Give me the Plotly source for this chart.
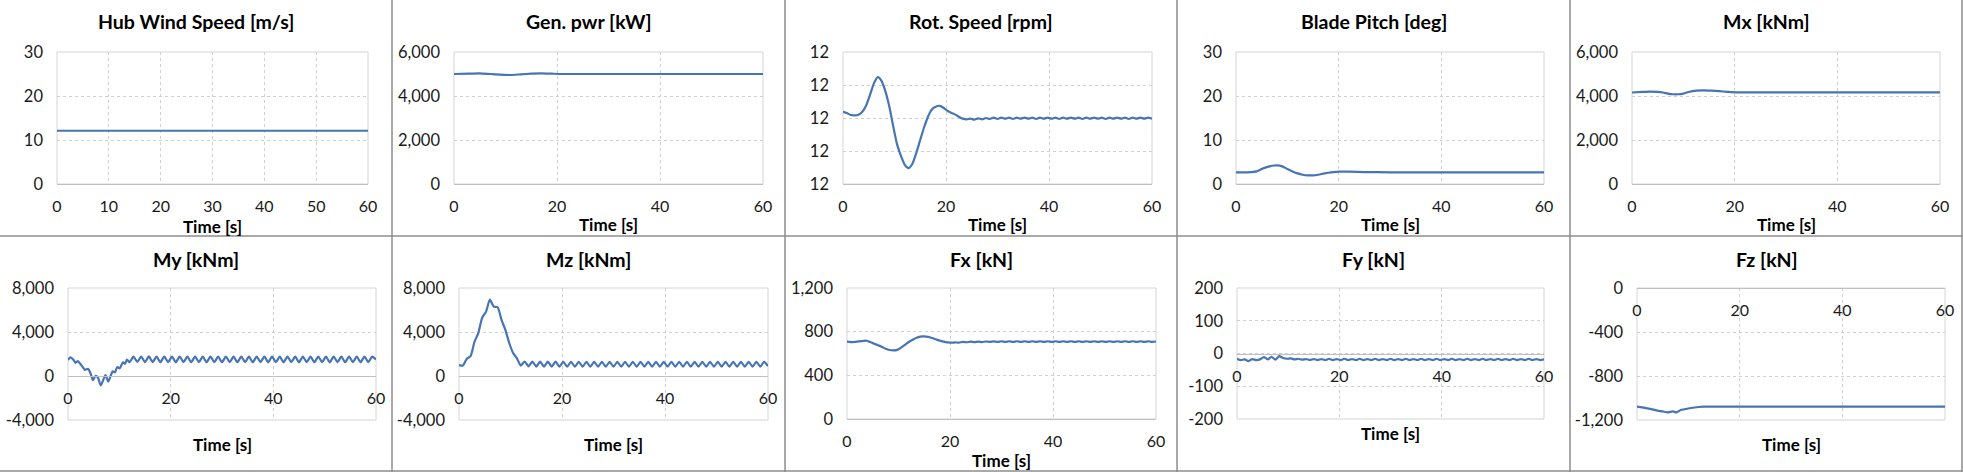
import plotly.graph_objects as go

W, H = 1963, 472

# ---------------- data ----------------
xt_10 = [0, 10, 20, 30, 40, 50, 60]
xtl_10 = ["0", "10", "20", "30", "40", "50", "60"]
xt_20 = [0, 20, 40, 60]
xtl_20 = ["0", "20", "40", "60"]

# common time grid (s) for rippling signals
t_grid = [0, 0.75, 1.5, 2.25, 3, 3.75, 4.5, 5.25,
          6, 6.75, 7.5, 8.25, 9, 9.75, 10.5, 11.25,
          12, 12.75, 13.5, 14.25, 15, 15.75, 16.5, 17.25,
          18, 18.75, 19.5, 20.25, 21, 21.75, 22.5, 23.25,
          24, 24.75, 25.5, 26.25, 27, 27.75, 28.5, 29.25,
          30, 30.75, 31.5, 32.25, 33, 33.75, 34.5, 35.25,
          36, 36.75, 37.5, 38.25, 39, 39.75, 40.5, 41.25,
          42, 42.75, 43.5, 44.25, 45, 45.75, 46.5, 47.25,
          48, 48.75, 49.5, 50.25, 51, 51.75, 52.5, 53.25,
          54, 54.75, 55.5, 56.25, 57, 57.75, 58.5, 59.25,
          60]

# Hub wind speed [m/s]
t_wind = [0, 10, 20, 30, 40, 50, 60]
wind = [12.1, 12.1, 12.1, 12.1, 12.1, 12.1, 12.1]
yt_wind = [0, 10, 20, 30]
ytl_wind = ["0", "10", "20", "30"]

# Generator power [kW]
t_pwr = [0, 3, 5, 7, 9, 11, 13, 15, 17, 19, 21, 25, 30, 40, 50, 60]
pwr = [5000, 5015, 5030, 5000, 4970, 4955, 4985, 5015, 5030, 5015, 5000, 5000, 5000, 5000, 5000, 5000]
yt_pwr = [0, 2000, 4000, 6000]
ytl_pwr = ["0", "2,000", "4,000", "6,000"]

# Rotor speed [rpm]
rot = [12.119, 12.115, 12.109, 12.108, 12.110, 12.119, 12.138, 12.170,
       12.205, 12.224, 12.212, 12.180, 12.134, 12.075, 12.020, 11.985,
       11.958, 11.948, 11.962, 11.995, 12.034, 12.072, 12.104, 12.126,
       12.134, 12.137, 12.131, 12.122, 12.116, 12.111, 12.104, 12.098,
       12.096, 12.098, 12.095, 12.099, 12.096, 12.100, 12.097, 12.101,
       12.097, 12.101, 12.098, 12.101, 12.097, 12.101, 12.098, 12.101,
       12.098, 12.101, 12.097, 12.101, 12.098, 12.101, 12.098, 12.101,
       12.097, 12.101, 12.098, 12.101, 12.098, 12.101, 12.097, 12.101,
       12.098, 12.101, 12.098, 12.101, 12.097, 12.101, 12.098, 12.101,
       12.098, 12.101, 12.097, 12.101, 12.098, 12.101, 12.098, 12.101,
       12.098]
yt_rot = [11.9, 12.0, 12.1, 12.2, 12.3]
ytl_rot = ["12", "12", "12", "12", "12"]

# Blade pitch [deg]
t_pitch = [0, 3, 4, 5, 6, 7, 8, 9, 10, 11, 12, 13, 14, 15, 16, 17, 18, 19, 20, 22, 25, 30, 40, 50, 60]
pitch = [2.65, 2.70, 2.86, 3.40, 3.84, 4.14, 4.22, 4.00, 3.40, 2.86, 2.41, 2.11, 1.96, 1.96, 2.11,
         2.34, 2.56, 2.71, 2.79, 2.79, 2.71, 2.66, 2.65, 2.65, 2.65]
yt_pitch = [0, 10, 20, 30]
ytl_pitch = ["0", "10", "20", "30"]

# Mx [kNm]
t_mx = [0, 2, 3.5, 5, 6, 7, 8, 9, 10, 11, 12.5, 14, 15.5, 17, 18.5, 20, 25, 30, 35, 40, 45, 50, 55, 60]
mx = [4160, 4185, 4200, 4185, 4160, 4110, 4080, 4080, 4110, 4180, 4245, 4260, 4245, 4220, 4190,
      4165, 4165, 4165, 4165, 4165, 4165, 4165, 4165, 4165]
yt_mx = [0, 2000, 4000, 6000]
ytl_mx = ["0", "2,000", "4,000", "6,000"]

# My [kNm]
t_my = [0, 0.45, 1.1, 1.45, 1.9, 2.45, 2.9, 3.3, 3.9, 4.35, 4.85, 5.35, 5.8, 6.4, 7.3, 7.85,
        8.7, 9.15, 9.6, 10.1, 10.7, 11.1, 11.5,
        12, 12.75, 13.5, 14.25, 15, 15.75, 16.5, 17.25,
        18, 18.75, 19.5, 20.25, 21, 21.75, 22.5, 23.25,
        24, 24.75, 25.5, 26.25, 27, 27.75, 28.5, 29.25,
        30, 30.75, 31.5, 32.25, 33, 33.75, 34.5, 35.25,
        36, 36.75, 37.5, 38.25, 39, 39.75, 40.5, 41.25,
        42, 42.75, 43.5, 44.25, 45, 45.75, 46.5, 47.25,
        48, 48.75, 49.5, 50.25, 51, 51.75, 52.5, 53.25,
        54, 54.75, 55.5, 56.25, 57, 57.75, 58.5, 59.25,
        60]
my = [1450, 1700, 1450, 1200, 1350, 1080, 790, 560, 650, 300, -380, 0, -120, -850, 90, -520,
      420, 330, 820, 700, 1250, 1100, 1500,
      1250, 1760, 1280, 1770, 1260, 1780, 1270, 1760,
      1250, 1770, 1260, 1760, 1250, 1770, 1260, 1760,
      1250, 1770, 1260, 1760, 1250, 1770, 1260, 1760,
      1250, 1770, 1260, 1760, 1250, 1770, 1260, 1760,
      1250, 1770, 1260, 1760, 1250, 1770, 1260, 1760,
      1250, 1770, 1260, 1760, 1250, 1770, 1260, 1760,
      1250, 1770, 1260, 1760, 1250, 1770, 1260, 1760,
      1250, 1770, 1260, 1760, 1250, 1770, 1260, 1760,
      1500]
yt_my = [-4000, 0, 4000, 8000]
ytl_my = ["-4,000", "0", "4,000", "8,000"]

# Mz [kNm]
mz = [1000, 950, 1550, 1800, 3100, 3900, 5300, 5850,
      6950, 6300, 6250, 5100, 4200, 3000, 2100, 1600,
      950, 1320, 880, 1320, 860, 1310, 850, 1300,
      850, 1300, 850, 1290, 850, 1290, 850, 1290,
      850, 1290, 850, 1290, 850, 1290, 850, 1290,
      850, 1290, 850, 1290, 850, 1290, 850, 1290,
      850, 1290, 850, 1290, 850, 1290, 850, 1290,
      850, 1290, 850, 1290, 850, 1290, 850, 1290,
      850, 1290, 850, 1290, 850, 1290, 850, 1290,
      850, 1290, 850, 1290, 850, 1290, 850, 1290,
      900]
yt_mz = [-4000, 0, 4000, 8000]
ytl_mz = ["-4,000", "0", "4,000", "8,000"]

# Fx [kN]
fx = [708, 705, 707, 711, 714, 717, 705, 690,
      676, 662, 644, 632, 628, 633, 654, 680,
      705, 726, 745, 755, 757, 752, 742, 730,
      718, 709, 702, 699, 701, 700, 706, 703,
      708, 704, 709, 705, 710, 706, 711, 707,
      712, 707, 712, 707, 712, 707, 712, 707,
      712, 707, 712, 707, 712, 707, 712, 707,
      712, 707, 712, 707, 712, 707, 712, 707,
      712, 707, 712, 707, 712, 707, 712, 707,
      712, 707, 712, 707, 712, 707, 712, 707,
      710]
yt_fx = [0, 400, 800, 1200]
ytl_fx = ["0", "400", "800", "1,200"]

# Fy [kN]
fy = [-16, -20, -18, -23, -17, -20, -18, -11,
      -18, -10, -19, -8, -14, -16, -15, -18,
      -16, -19, -17, -20, -17, -20, -17, -20,
      -16, -20, -17, -20, -16, -20, -17, -20,
      -16, -20, -17, -20, -16, -20, -17, -20,
      -16, -20, -17, -20, -16, -20, -17, -20,
      -16, -20, -17, -20, -16, -20, -17, -20,
      -16, -20, -17, -20, -16, -20, -17, -20,
      -16, -20, -17, -20, -16, -20, -17, -20,
      -16, -20, -17, -20, -16, -20, -17, -20,
      -18]
yt_fy = [-200, -100, 0, 100, 200]
ytl_fy = ["-200", "-100", "0", "100", "200"]

# Fz [kN]
t_fz = [0, 1, 2, 3, 4, 5, 6, 7, 7.7, 8.5, 9.5, 10.5, 12, 13, 20, 30, 40, 50, 60]
fz = [-1079, -1085, -1094, -1103, -1115, -1122, -1131, -1122, -1131, -1109, -1100, -1091,
      -1082, -1079, -1079, -1079, -1079, -1079, -1079]
yt_fz = [-1200, -800, -400, 0]
ytl_fz = ["-1,200", "-800", "-400", "0"]

# ---------------- layout / style ----------------
BLUE = "#4674B4"
GRID = "#D0D0D0"
FRAME = "#D4D4D4"
AXIS = "#BFBFBF"
SEP = "#8C8C8C"
FONT = "Lato"
TXT = "#1A1A1A"

panels = [
    dict(title="Hub Wind Speed [m/s]", t=t_wind, v=wind, yr=[0, 30], yt=yt_wind, ytl=ytl_wind,
         xt=xt_10, xtl=xtl_10, box=(57, 368, 52, 184), cell=(0, 392), ty=22, tt=227),
    dict(title="Gen. pwr [kW]", t=t_pwr, v=pwr, yr=[0, 6000], yt=yt_pwr, ytl=ytl_pwr,
         xt=xt_20, xtl=xtl_20, box=(454, 763, 52, 184), cell=(392, 785), ty=22, tt=224),
    dict(title="Rot. Speed [rpm]", t=t_grid, v=rot, yr=[11.9, 12.3], yt=yt_rot, ytl=ytl_rot,
         xt=xt_20, xtl=xtl_20, box=(843, 1152, 52, 184), cell=(785, 1177), ty=22, tt=224),
    dict(title="Blade Pitch [deg]", t=t_pitch, v=pitch, yr=[0, 30], yt=yt_pitch, ytl=ytl_pitch,
         xt=xt_20, xtl=xtl_20, box=(1236, 1544, 52, 184), cell=(1177, 1570), ty=22, tt=224),
    dict(title="Mx [kNm]", t=t_mx, v=mx, yr=[0, 6000], yt=yt_mx, ytl=ytl_mx,
         xt=xt_20, xtl=xtl_20, box=(1632, 1940, 52, 184), cell=(1570, 1963), ty=22, tt=224),
    dict(title="My [kNm]", t=t_my, v=my, yr=[-4000, 8000], yt=yt_my, ytl=ytl_my,
         xt=xt_20, xtl=xtl_20, box=(68, 376, 288, 420), cell=(0, 392), ty=259, tt=444),
    dict(title="Mz [kNm]", t=t_grid, v=mz, yr=[-4000, 8000], yt=yt_mz, ytl=ytl_mz,
         xt=xt_20, xtl=xtl_20, box=(459, 768, 288, 420), cell=(392, 785), ty=259, tt=444),
    dict(title="Fx [kN]", t=t_grid, v=fx, yr=[0, 1200], yt=yt_fx, ytl=ytl_fx,
         xt=xt_20, xtl=xtl_20, box=(847, 1156, 288, 419), cell=(785, 1177), ty=259, tt=460),
    dict(title="Fy [kN]", t=t_grid, v=fy, yr=[-200, 200], yt=yt_fy, ytl=ytl_fy,
         xt=xt_20, xtl=xtl_20, box=(1237, 1544, 288, 419), cell=(1177, 1570), ty=259, tt=433),
    dict(title="Fz [kN]", t=t_fz, v=fz, yr=[-1200, 0], yt=yt_fz, ytl=ytl_fz,
         xt=xt_20, xtl=xtl_20, box=(1637, 1945, 288, 420), cell=(1570, 1963), ty=259, tt=444),
]

fig = go.Figure()
layout = {}
shapes = []
annotations = []

for k, p in enumerate(panels, start=1):
    xa = "x" if k == 1 else f"x{k}"
    ya = "y" if k == 1 else f"y{k}"
    x0, x1, y0, y1 = p["box"]
    xd = [x0 / W, x1 / W]
    yd = [1 - y1 / H, 1 - y0 / H]
    ymin, ymax = p["yr"]
    zero = min(max(0.0, ymin), ymax)
    pos = yd[0] + (zero - ymin) / (ymax - ymin) * (yd[1] - yd[0])

    fig.add_trace(go.Scatter(
        x=p["t"], y=p["v"], mode="lines", xaxis=xa, yaxis=ya, showlegend=False,
        line=dict(color=BLUE, width=2.2, shape="spline", smoothing=0.6), hoverinfo="skip"))

    layout["xaxis" if k == 1 else f"xaxis{k}"] = dict(
        domain=xd, range=[0, 60], anchor="free", position=pos, automargin=False,
        tickmode="array", tickvals=p["xt"], ticktext=p["xtl"],
        showgrid=True, gridcolor=GRID, griddash="dot", gridwidth=1,
        showline=True, linecolor=AXIS, linewidth=1, zeroline=False,
        ticks="", ticklabelstandoff=8,
        tickfont=dict(family=FONT, size=16, color=TXT), fixedrange=True)
    layout["yaxis" if k == 1 else f"yaxis{k}"] = dict(
        domain=yd, range=p["yr"], anchor=xa, automargin=False,
        tickmode="array", tickvals=p["yt"], ticktext=p["ytl"],
        showgrid=True, gridcolor=GRID, griddash="dot", gridwidth=1,
        showline=False, zeroline=False, ticks="", ticklabelstandoff=13,
        tickfont=dict(family=FONT, size=16.5, color=TXT), fixedrange=True)

    # plot-area frame
    shapes.append(dict(type="rect", xref=f"{xa} domain", yref=f"{ya} domain",
                       x0=0, x1=1, y0=0, y1=1, line=dict(color=FRAME, width=1), layer="below"))

    cx0, cx1 = p["cell"]
    annotations.append(dict(text=f"<b>{p['title']}</b>", xref="paper", yref="paper",
                            x=(cx0 + cx1) / 2 / W, y=1 - p["ty"] / H, showarrow=False,
                            xanchor="center", yanchor="middle",
                            font=dict(family=FONT, size=19.5, color="#000000")))
    annotations.append(dict(text="<b>Time [s]</b>", xref="paper", yref="paper",
                            x=(x0 + x1) / 2 / W, y=1 - p["tt"] / H, showarrow=False,
                            xanchor="center", yanchor="middle", borderpad=0,
                            font=dict(family=FONT, size=17, color="#000000")))

# panel separators
for sx in [392, 785, 1177, 1570]:
    shapes.append(dict(type="line", xref="paper", yref="paper", x0=sx / W, x1=sx / W, y0=0, y1=1,
                       line=dict(color=SEP, width=1.5)))
shapes.append(dict(type="line", xref="paper", yref="paper", x0=0, x1=1, y0=1 - 236 / H, y1=1 - 236 / H,
                   line=dict(color=SEP, width=1.5)))
shapes.append(dict(type="line", xref="paper", yref="paper", x0=(W - 1) / W, x1=(W - 1) / W, y0=0, y1=1,
                   line=dict(color=SEP, width=1.5)))
shapes.append(dict(type="line", xref="paper", yref="paper", x0=0, x1=1, y0=1 / H, y1=1 / H,
                   line=dict(color=SEP, width=1.5)))

fig.update_layout(
    template="none",
    width=W, height=H, margin=dict(l=0, r=0, t=0, b=0, pad=0), autosize=False,
    paper_bgcolor="white", plot_bgcolor="white",
    font=dict(family=FONT, color=TXT),
    shapes=shapes, annotations=annotations, **layout)

post = """
document.documentElement.style.margin='0'; document.body.style.margin='0';
document.body.style.overflow='hidden';
"""
fig.write_html("out.html", config={"displayModeBar": False}, post_script=post)
